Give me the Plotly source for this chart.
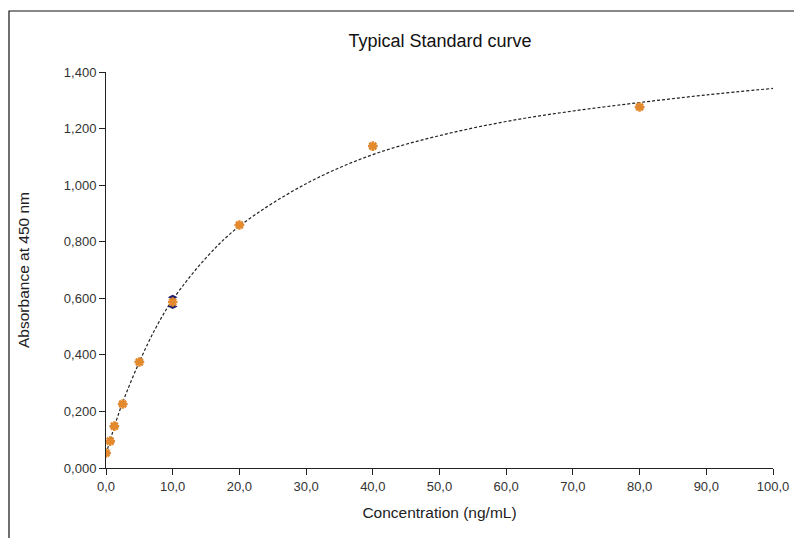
import plotly.graph_objects as go

# Data
conc = [0.0, 0.625, 1.25, 2.5, 5.0, 10.0, 20.0, 40.0, 80.0]
abs_mean = [0.053, 0.095, 0.148, 0.226, 0.375, 0.587, 0.859, 1.138, 1.276]
rep1 = [0.051, 0.093, 0.146, 0.224, 0.373, 0.604, 0.857, 1.136, 1.274]
rep2 = [0.055, 0.097, 0.150, 0.228, 0.377, 0.571, 0.861, 1.140, 1.278]

curve_x = [0, 0.625, 1.25, 2.5, 5, 7.5, 10, 15, 20, 30, 40, 50, 60, 70, 80, 90, 100]
curve_y = [0.05, 0.098, 0.146, 0.232, 0.375, 0.497, 0.595, 0.743, 0.855, 1.005, 1.108,
           1.175, 1.225, 1.262, 1.292, 1.319, 1.342]

x_ticks = [0, 10, 20, 30, 40, 50, 60, 70, 80, 90, 100]
y_ticks = [0.0, 0.2, 0.4, 0.6, 0.8, 1.0, 1.2, 1.4]

OFF = 7  # page offset of the figure inside the window
W, H = 802 - OFF, 538 - OFF
L, T = 105 - OFF, 71 - OFF
pw, ph = 667, 396
R, B = W - L - pw, H - T - ph

fig = go.Figure()
fig.add_trace(go.Scatter(
    x=curve_x, y=curve_y, mode="lines", line_shape="spline",
    line=dict(color="#222222", width=1.2, dash="3px,2px"),
    hoverinfo="skip", showlegend=False))
fig.add_trace(go.Scatter(
    x=conc + conc, y=rep1 + rep2, mode="markers",
    marker=dict(symbol="diamond-wide", size=7, color="#1c1c6e"),
    showlegend=False))
fig.add_trace(go.Scatter(
    x=conc, y=abs_mean, mode="markers",
    marker=dict(symbol="asterisk-open", size=8, color="#e48a2c",
                line=dict(color="#e48a2c", width=2.5)),
    showlegend=False))

fig.update_layout(
    width=W, height=H,
    margin=dict(l=L, r=R, t=T, b=B),
    paper_bgcolor="white", plot_bgcolor="white",
    separators=",.",
    font=dict(family="Liberation Sans, Arial, sans-serif", color="#222222"),
    title=dict(text="Typical Standard curve", x=(439 - OFF) / W, xanchor="center",
               y=1 - (40 - OFF) / H, yanchor="middle",
               font=dict(size=18, color="#111111")),
    xaxis=dict(range=[0, 100], tickvals=x_ticks, tickformat=".1f",
               showline=True, linecolor="#222222", linewidth=1,
               ticks="outside", ticklen=6, tickcolor="#222222",
               showgrid=False, zeroline=False,
               tickfont=dict(size=13, color="#333333"),
               title=dict(text="Concentration (ng/mL)", standoff=14,
                          font=dict(size=15.5, color="#222222"))),
    yaxis=dict(range=[0, 1.4], tickvals=y_ticks, tickformat=".3f",
               showline=True, linecolor="#222222", linewidth=1,
               ticks="outside", ticklen=6, tickcolor="#222222",
               showgrid=False, zeroline=False,
               tickfont=dict(size=13, color="#333333"),
               title=dict(text="Absorbance at 450 nm", standoff=30,
                          font=dict(size=15.5, color="#222222"))),
    shapes=[dict(type="rect", xref="paper", yref="paper",
                 x0=(8 - OFF - L) / pw, x1=(W + 20 - L) / pw,
                 y0=-(B + 20) / ph, y1=(H - B - (10 - OFF)) / ph,
                 line=dict(color="#111111", width=1.2), layer="above")],
)

fig.write_html("out.html")
